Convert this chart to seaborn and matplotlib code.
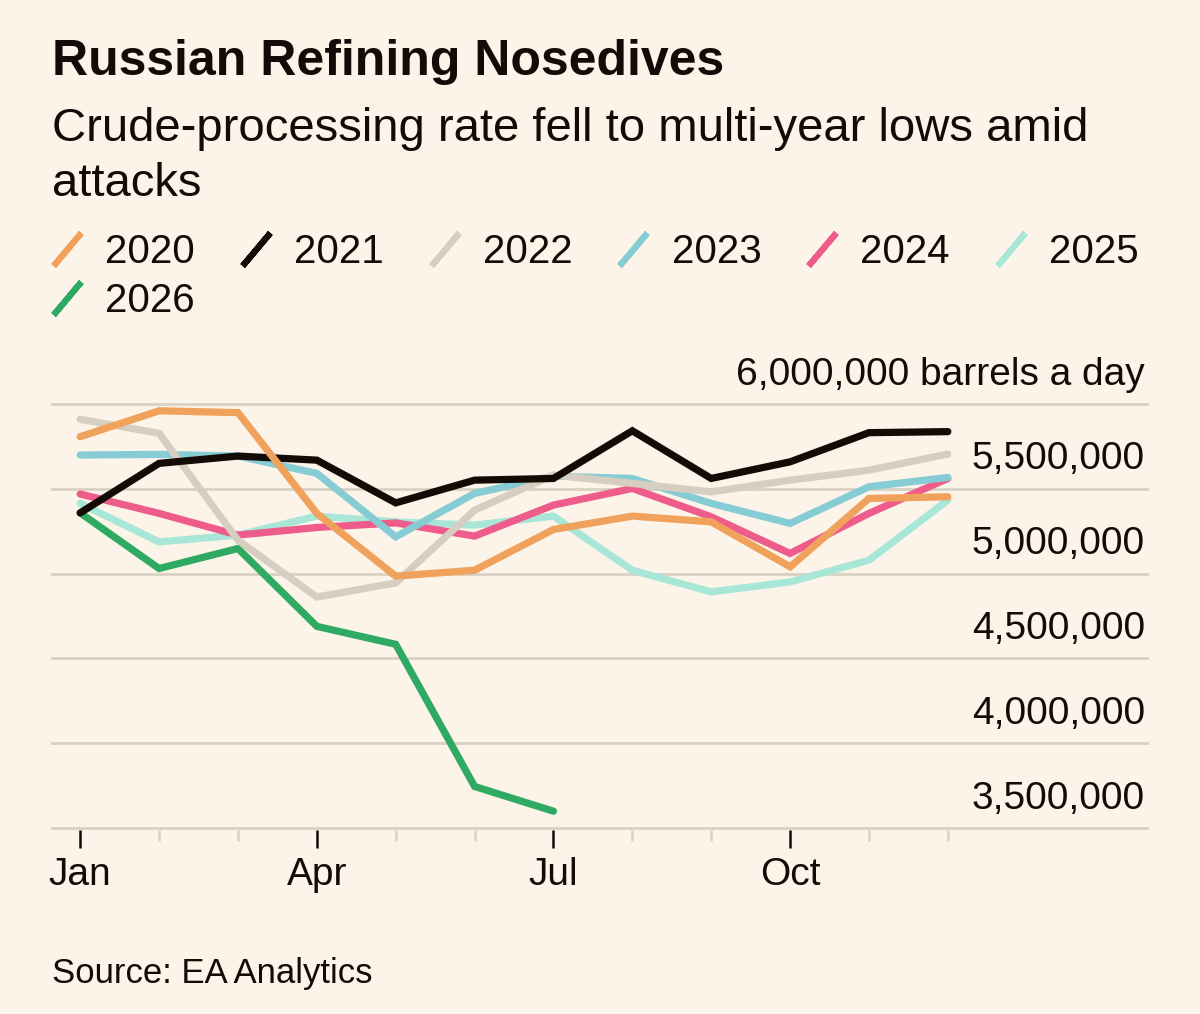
import numpy as np
import pandas as pd
import matplotlib.pyplot as plt
from matplotlib.lines import Line2D
import seaborn as sns

# monthly crude-processing rate, barrels a day
months = ['Jan', 'Feb', 'Mar', 'Apr', 'May', 'Jun', 'Jul', 'Aug', 'Sep', 'Oct', 'Nov', 'Dec']
years = ['2020', '2021', '2022', '2023', '2024', '2025', '2026']

y2020 = [5807000, 5960000, 5949000, 5355000, 4985000, 5020000, 5260000, 5339000, 5305000, 5040000, 5443000, 5453000]
y2021 = [5358000, 5650000, 5693000, 5669000, 5417000, 5551000, 5561000, 5842000, 5561000, 5659000, 5831000, 5837000]
y2022 = [5910000, 5827000, 5197000, 4862000, 4945000, 5374000, 5581000, 5532000, 5482000, 5551000, 5610000, 5705000]
y2023 = [5699000, 5703000, 5693000, 5591000, 5217000, 5473000, 5575000, 5561000, 5414000, 5296000, 5512000, 5567000]
y2024 = [5469000, 5355000, 5227000, 5272000, 5299000, 5221000, 5404000, 5502000, 5335000, 5119000, 5355000, 5561000]
y2025 = [5414000, 5187000, 5227000, 5339000, 5305000, 5286000, 5339000, 5020000, 4892000, 4951000, 5079000, 5433000]
y2026 = [5358000, 5030000, 5148000, 4689000, 4583000, 3745000, 3599000]

yticks = [3500000, 4000000, 4500000, 5000000, 5500000, 6000000]

colors = {'2020': '#F0A25C', '2021': '#140A06', '2022': '#D6CFC1', '2023': '#86CCD4',
          '2024': '#EE5C8B', '2025': '#A8E6D7', '2026': '#2FAA62'}
bg = '#FCF4E8'
grid = '#D9D1C3'
ink = '#120B08'

series = {'2020': y2020, '2021': y2021, '2022': y2022, '2023': y2023,
          '2024': y2024, '2025': y2025, '2026': y2026}
rows = []
for yr, vals in series.items():
    for i, v in enumerate(vals):
        rows.append({'month': i, 'year': yr, 'bpd': v})
df = pd.DataFrame(rows)

sns.set_theme(style='white')
plt.rcParams['font.family'] = ['Liberation Sans', 'DejaVu Sans']

W, H = 1200, 1014
fig = plt.figure(figsize=(W / 100, H / 100), dpi=100, facecolor=bg)
ax = fig.add_axes([51 / W, (H - 829.7) / H, 1098 / W, 427.4 / H])
ax.set_facecolor(bg)

# later years drawn first so 2020 sits on top
sns.lineplot(data=df, x='month', y='bpd', hue='year', hue_order=years[::-1],
             palette=colors, linewidth=5.2, legend=False, ax=ax,
             solid_capstyle='round', solid_joinstyle='miter')

ax.set_ylim(3490000, 6010000)
ax.set_xlim(-0.37, 13.55)
for s in ax.spines.values():
    s.set_visible(False)

ax.set_yticks(yticks)
ax.yaxis.grid(True, color=grid, linewidth=2)
ax.set_axisbelow(True)
ax.tick_params(axis='y', left=False, right=False, labelleft=False)
for v in yticks:
    lab = f'{v:,}'
    if v == 6000000:
        lab += ' barrels a day'
    ax.annotate(lab, xy=(0.9964, v), xycoords=('axes fraction', 'data'),
                xytext=(0, 14), textcoords='offset points',
                ha='right', va='baseline', fontsize=28, color=ink)

ax.set_xticks([0, 3, 6, 9], labels=['Jan', 'Apr', 'Jul', 'Oct'])
ax.set_xticks([1, 2, 4, 5, 7, 8, 10, 11], minor=True)
ax.tick_params(axis='x', which='major', bottom=True, direction='out', length=13,
               width=1.8, color=ink, pad=7, labelsize=28, labelcolor=ink)
ax.tick_params(axis='x', which='minor', bottom=True, direction='out', length=8,
               width=1.8, color=grid)
ax.set_xlabel('')
ax.set_ylabel('')

# legend with slash handles, 2026 wraps to a second row under 2020
order = ['2020', '2026', '2021', '2022', '2023', '2024', '2025']
handles = [Line2D([], [], linestyle='None', marker=(2, 2, -40), markersize=31,
                  markeredgewidth=4.4, markeredgecolor=colors[y]) for y in order]
leg = fig.legend(handles, order, loc='upper left', bbox_to_anchor=(52 / W, 1 - 233 / H),
                 ncol=6, frameon=False, fontsize=29, handlelength=0.75,
                 handletextpad=0.57, columnspacing=1.14, labelspacing=0.27,
                 borderpad=0, borderaxespad=0)
for t in leg.get_texts():
    t.set_color(ink)

fig.text(52 / W, 1 - 75 / H, 'Russian Refining Nosedives', fontsize=36,
         fontweight='bold', color=ink, va='baseline')
fig.text(52 / W, 1 - 141 / H, 'Crude-processing rate fell to multi-year lows amid',
         fontsize=34, color=ink, va='baseline')
fig.text(52 / W, 1 - 196 / H, 'attacks', fontsize=34, color=ink, va='baseline')
fig.text(52 / W, 1 - 983 / H, 'Source: EA Analytics', fontsize=25, color=ink,
         va='baseline')

fig.savefig('out.png', dpi=100, facecolor=bg)
